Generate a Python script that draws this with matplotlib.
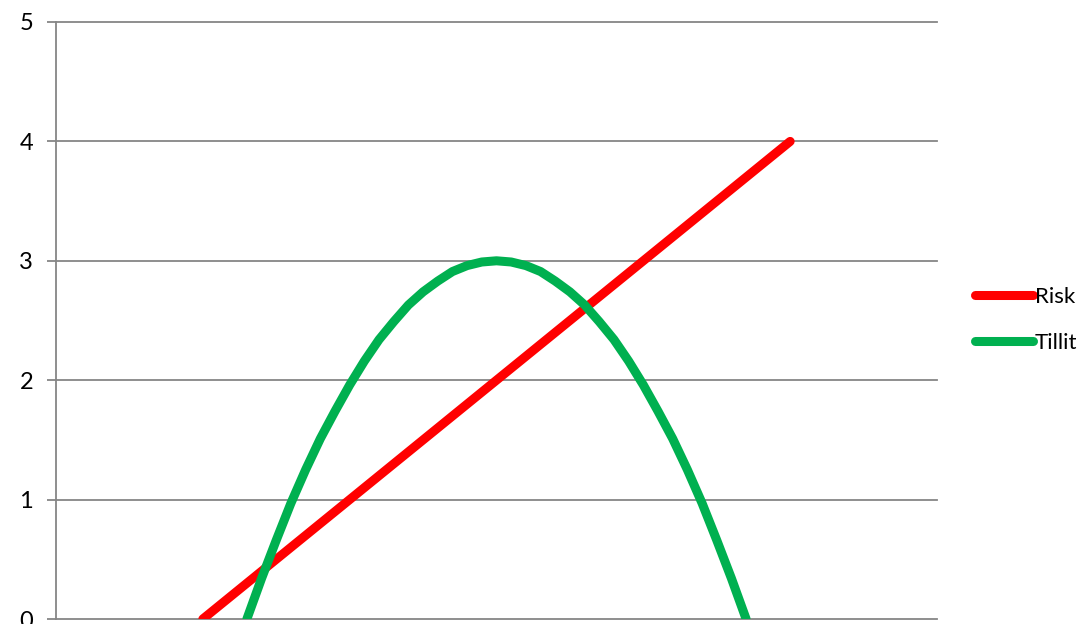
import matplotlib.pyplot as plt

# values
risk_x = [2, 10]
risk_y = [0, 4]

tillit_x = [2.6, 2.8, 3.0, 3.2, 3.4, 3.6, 3.8, 4.0, 4.2, 4.4, 4.6, 4.8, 5.0, 5.2, 5.4, 5.6, 5.8,
            6.0, 6.2, 6.4, 6.6, 6.8, 7.0, 7.2, 7.4, 7.6, 7.8, 8.0, 8.2, 8.4, 8.6, 8.8, 9.0, 9.2, 9.4]
tillit_y = [0, 0.34, 0.66, 0.97, 1.25, 1.51, 1.74, 1.96, 2.16, 2.34, 2.49, 2.63, 2.74, 2.83, 2.91, 2.96, 2.99,
            3.0, 2.99, 2.96, 2.91, 2.83, 2.74, 2.63, 2.49, 2.34, 2.16, 1.96, 1.74, 1.51, 1.25, 0.97, 0.66, 0.34, 0]

y_ticks = [0, 1, 2, 3, 4, 5]

plt.rcParams['font.family'] = ['Lato', 'DejaVu Sans']

fig = plt.figure(figsize=(10.84, 6.24), dpi=100)
ax = fig.add_axes([56 / 1084, 5 / 624, (937 - 56) / 1084, (619 - 22) / 624])

grid_col = "#868686"

ax.plot(risk_x, risk_y, color="#FF0000", lw=6.5, solid_capstyle="round", label="Risk", zorder=3)
ax.plot(tillit_x, tillit_y, color="#00B050", lw=6.5, solid_capstyle="round",
        solid_joinstyle="round", label="Tillit", zorder=3)

ax.set_xlim(0, 12)
ax.set_ylim(0, 5)
ax.set_yticks(y_ticks)
ax.set_xticks([])
for y in y_ticks:
    ax.axhline(y, color=grid_col, lw=1.3, zorder=1, clip_on=False)

for side in ["top", "right", "bottom"]:
    ax.spines[side].set_visible(False)
ax.spines["left"].set_color(grid_col)
ax.spines["left"].set_linewidth(1.3)
ax.tick_params(axis="y", direction="out", length=6.5, width=1.3, color=grid_col,
               labelsize=17, pad=10)

leg = fig.legend(loc="center left", bbox_to_anchor=(966 / 1084, 1 - 320 / 624),
                 frameon=False, fontsize=16, handlelength=2.6, handletextpad=0.1,
                 labelspacing=1.15, borderaxespad=0)
for line in leg.get_lines():
    line.set_solid_capstyle("round")

fig.savefig("out.png", dpi=100)
